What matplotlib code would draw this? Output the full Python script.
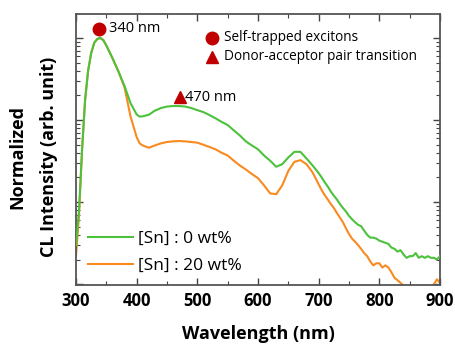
import numpy as np
import matplotlib.pyplot as plt
from matplotlib.lines import Line2D
from matplotlib.ticker import MultipleLocator, LogLocator, NullFormatter

plt.rcParams['font.family'] = ['Open Sans', 'DejaVu Sans']

# wavelength (nm)
wl = [300, 305, 310, 315, 320, 325, 330, 335, 340, 345, 350, 360, 370, 380, 390,
      400, 405, 410, 420, 430, 440, 450, 460, 470, 480, 490, 500, 510, 520, 530,
      540, 550, 560, 570, 580, 590, 600, 610, 620, 630, 640, 650, 660, 670, 680,
      690, 700, 705, 710, 715, 720, 725, 730, 735, 740, 745, 750, 755, 760, 765,
      770, 775, 780, 785, 790, 795, 800, 805, 810, 815, 820, 825, 830, 835, 840,
      845, 850, 855, 860, 865, 870, 875, 880, 885, 890, 895, 900]

# [Sn] : 0 wt%
sn0 = [0.0030, 0.008, 0.043, 0.175, 0.40, 0.65, 0.87, 0.97, 1.0, 0.94, 0.81, 0.57,
       0.39, 0.26, 0.16, 0.117, 0.110, 0.111, 0.116, 0.130, 0.140, 0.146, 0.148,
       0.148, 0.146, 0.140, 0.132, 0.125, 0.115, 0.105, 0.095, 0.087, 0.075, 0.065,
       0.055, 0.049, 0.044, 0.037, 0.032, 0.027, 0.029, 0.035, 0.041, 0.041, 0.034,
       0.028, 0.0226, 0.020, 0.0175, 0.0155, 0.0135, 0.0120, 0.0108, 0.0095, 0.0085,
       0.0077, 0.0068, 0.0062, 0.0057, 0.0053, 0.0051, 0.0045, 0.0040, 0.0037,
       0.0037, 0.0036, 0.0034, 0.0033, 0.0032, 0.0031, 0.0028, 0.0027, 0.0025,
       0.0026, 0.0023, 0.0021, 0.0022, 0.0022, 0.0024, 0.0021, 0.0022, 0.0021,
       0.0022, 0.0021, 0.0021, 0.0020, 0.0022]

# [Sn] : 20 wt%
sn20 = [0.0022, 0.007, 0.043, 0.175, 0.40, 0.65, 0.87, 0.97, 1.0, 0.94, 0.81, 0.57,
        0.39, 0.25, 0.11, 0.062, 0.052, 0.049, 0.046, 0.049, 0.052, 0.054, 0.055,
        0.0555, 0.055, 0.054, 0.053, 0.050, 0.047, 0.044, 0.040, 0.037, 0.032, 0.028,
        0.025, 0.022, 0.0196, 0.016, 0.0128, 0.0125, 0.016, 0.024, 0.031, 0.0325,
        0.029, 0.023, 0.0165, 0.0140, 0.0122, 0.0108, 0.0095, 0.0085, 0.0074, 0.0065,
        0.0057, 0.0048, 0.0041, 0.0036, 0.0033, 0.0030, 0.0027, 0.0024, 0.0022,
        0.0019, 0.0017, 0.0018, 0.0018, 0.0016, 0.0017, 0.0016, 0.0014, 0.0012,
        0.00112, 0.00104, 0.00096, 0.00092, 0.00090, 0.00089, 0.00090, 0.00091,
        0.00090, 0.00089, 0.00092, 0.00092, 0.00100, 0.00115, 0.00104]

green = '#4cc23c'
orange = '#f98a1f'
mark_red = '#c00000'

fig = plt.figure(figsize=(4.55, 3.44), dpi=100)
ax = fig.add_axes([0.167, 0.1715, 0.80, 0.7875])

ax.plot(wl, sn0, color=green, lw=1.5, zorder=3)
ax.plot(wl, sn20, color=orange, lw=1.5, zorder=2)

ax.set_yscale('log')
ax.set_xlim(300, 900)
ax.set_ylim(0.00098, 1.95)

# peak markers
ax.plot(338, 1.29, 'o', color=mark_red, ms=9, zorder=4)
ax.text(354, 1.29, '340 nm', fontsize=10.5, va='center', ha='left')
ax.plot(472, 0.19, '^', color=mark_red, ms=9, zorder=4)
ax.text(480, 0.19, '470 nm', fontsize=10.5, va='center', ha='left')

# marker legend
ax.plot(524, 1.0, 'o', color=mark_red, ms=9)
ax.text(544, 1.0, 'Self-trapped excitons', fontsize=9.8, va='center', ha='left')
ax.plot(524, 0.59, '^', color=mark_red, ms=9)
ax.text(544, 0.59, 'Donor-acceptor pair transition', fontsize=9.8, va='center', ha='left')

handles = [Line2D([0], [0], color=green, lw=1.5), Line2D([0], [0], color=orange, lw=1.5)]
ax.legend(handles, ['[Sn] : 0 wt%', '[Sn] : 20 wt%'], loc='lower left',
          bbox_to_anchor=(0.0, -0.005), frameon=False, fontsize=12.5,
          handlelength=2.6, handletextpad=0.25, labelspacing=0.62, borderaxespad=0.3)

ax.xaxis.set_major_locator(MultipleLocator(100))
ax.xaxis.set_minor_locator(MultipleLocator(50))
ax.yaxis.set_major_locator(LogLocator(base=10, numticks=10))
ax.yaxis.set_minor_locator(LogLocator(base=10, subs=np.arange(2, 10), numticks=20))
ax.yaxis.set_major_formatter(NullFormatter())
ax.yaxis.set_minor_formatter(NullFormatter())

ax.tick_params(which='both', direction='in', top=True, right=True, color='#444444')
ax.tick_params(which='major', length=5, width=1.0)
ax.tick_params(which='minor', length=3, width=0.8)
ax.tick_params(axis='x', labelsize=12, pad=5)
for lab in ax.get_xticklabels():
    lab.set_fontweight('bold')
for sp in ax.spines.values():
    sp.set_color('#555555')
    sp.set_linewidth(1.3)

ax.set_xlabel('Wavelength (nm)', fontsize=13, fontweight='bold', labelpad=11)
ax.set_ylabel('Normalized\nCL Intensity (arb. unit)', fontsize=13, fontweight='bold',
              linespacing=2.0)
ax.yaxis.set_label_coords(-0.049, 0.474)

fig.savefig('out.png', dpi=100)
